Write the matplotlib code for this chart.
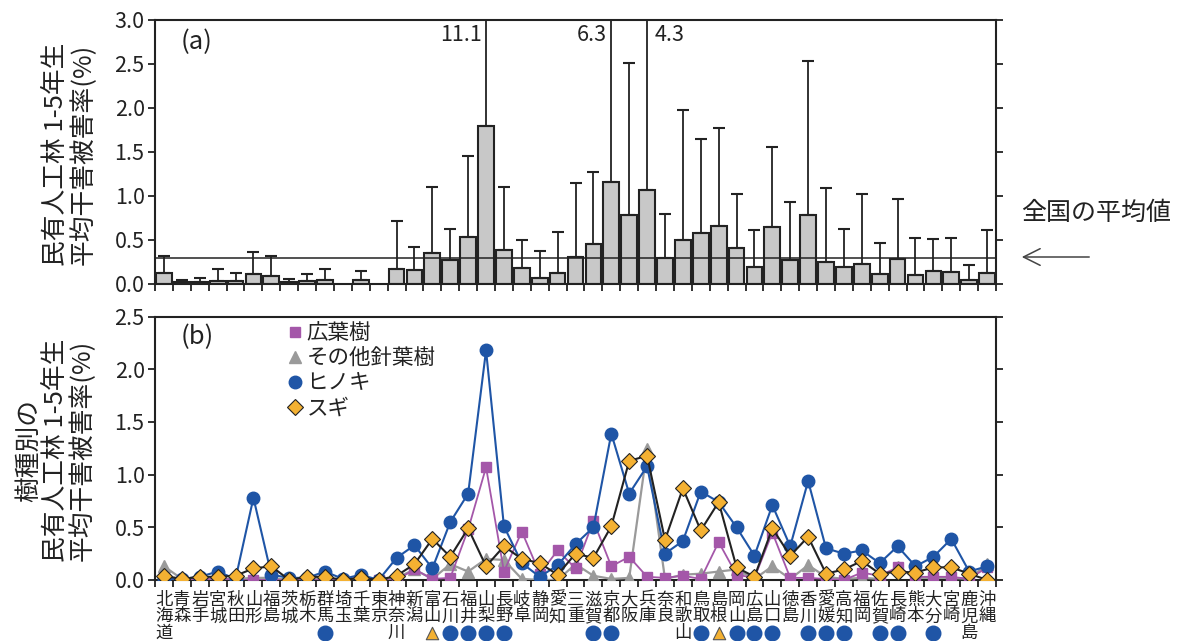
import numpy as np
import matplotlib
matplotlib.use('Agg')
import matplotlib.pyplot as plt
from matplotlib.lines import Line2D
import matplotlib.transforms as mtransforms

plt.rcParams['font.family'] = ['Noto Sans CJK JP', 'DejaVu Sans']
plt.rcParams['text.color'] = '#222222'
plt.rcParams['axes.labelcolor'] = '#222222'
plt.rcParams['xtick.color'] = '#222222'
plt.rcParams['ytick.color'] = '#222222'

prefs = ['北海道', '青森', '岩手', '宮城', '秋田', '山形', '福島', '茨城', '栃木', '群馬',
         '埼玉', '千葉', '東京', '神奈川', '新潟', '富山', '石川', '福井', '山梨', '長野',
         '岐阜', '静岡', '愛知', '三重', '滋賀', '京都', '大阪', '兵庫', '奈良', '和歌山',
         '鳥取', '島根', '岡山', '広島', '山口', '徳島', '香川', '愛媛', '高知', '福岡',
         '佐賀', '長崎', '熊本', '大分', '宮崎', '鹿児島', '沖縄']

# (a) mean damage rate and top of the error bar
mean_rate = [0.13, 0.02, 0.02, 0.03, 0.03, 0.11, 0.09, 0.02, 0.03, 0.05,
             np.nan, 0.04, np.nan, 0.17, 0.16, 0.35, 0.27, 0.53, 1.80, 0.39,
             0.18, 0.07, 0.12, 0.31, 0.45, 1.16, 0.78, 1.07, 0.29, 0.50,
             0.58, 0.66, 0.41, 0.19, 0.65, 0.27, 0.78, 0.25, 0.19, 0.23,
             0.11, 0.28, 0.10, 0.15, 0.14, 0.05, 0.13]
err_top = [0.32, 0.05, 0.07, 0.17, 0.13, 0.36, 0.32, 0.06, 0.11, 0.17,
           np.nan, 0.15, np.nan, 0.71, 0.42, 1.10, 0.63, 1.45, 11.1, 1.10,
           0.50, 0.38, 0.59, 1.15, 1.27, 6.3, 2.51, 4.3, 0.80, 1.98,
           1.65, 1.77, 1.02, 0.61, 1.56, 0.93, 2.53, 1.09, 0.63, 1.02,
           0.47, 0.97, 0.52, 0.51, 0.52, 0.21, 0.61]
national_mean = 0.29

# (b) by tree species
broadleaf = [0.02, 0.00, 0.00, 0.02, 0.00, 0.00, 0.00, 0.00, 0.00, 0.00,
             0.00, 0.03, 0.00, 0.00, 0.10, 0.01, 0.02, 0.48, 1.07, 0.08,
             0.46, 0.06, 0.28, 0.11, 0.56, 0.13, 0.22, 0.03, 0.02, 0.04,
             0.01, 0.36, 0.05, 0.02, 0.45, 0.02, 0.02, 0.01, 0.00, 0.07,
             0.04, 0.12, 0.03, 0.03, 0.03, 0.01, 0.12]
other_conifer = [0.13, 0.01, 0.01, 0.01, 0.01, 0.02, 0.02, 0.00, 0.02, 0.01,
                 0.00, 0.02, 0.00, 0.02, 0.10, 0.01, 0.15, 0.08, 0.20, 0.19,
                 0.01, 0.00, 0.00, 0.15, 0.04, 0.01, 0.02, 1.24, 0.01, 0.05,
                 0.06, 0.08, 0.10, 0.01, 0.13, 0.01, 0.14, 0.03, 0.01, 0.02,
                 0.01, 0.12, 0.02, 0.02, 0.02, 0.01, 0.15]
hinoki = [0.01, 0.01, 0.03, 0.08, 0.01, 0.78, 0.05, 0.02, 0.02, 0.08,
          0.01, 0.05, 0.00, 0.21, 0.33, 0.11, 0.55, 0.82, 2.18, 0.51,
          0.16, 0.03, 0.14, 0.34, 0.50, 1.39, 0.82, 1.08, 0.25, 0.37,
          0.84, 0.74, 0.50, 0.23, 0.71, 0.32, 0.94, 0.30, 0.25, 0.28,
          0.16, 0.32, 0.13, 0.22, 0.39, 0.08, 0.13]
sugi = [0.04, 0.01, 0.03, 0.03, 0.04, 0.11, 0.13, 0.00, 0.03, 0.03,
        0.00, 0.02, 0.00, 0.04, 0.15, 0.39, 0.22, 0.49, 0.13, 0.32,
        0.20, 0.16, 0.05, 0.25, 0.21, 0.51, 1.13, 1.18, 0.38, 0.87,
        0.47, 0.74, 0.12, 0.03, 0.49, 0.23, 0.41, 0.06, 0.10, 0.18,
        0.06, 0.08, 0.07, 0.12, 0.12, 0.06, 0.00]

hinoki_mark = ['群馬', '石川', '福井', '山梨', '長野', '滋賀', '京都', '鳥取', '岡山',
               '広島', '山口', '香川', '愛媛', '高知', '佐賀', '長崎', '大分']
other_mark = ['富山', '島根']

c_blue = '#1f55a6'
c_purple = '#a457a9'
c_grey = '#9a9a9a'
c_orange = '#f4b132'

x = np.arange(len(prefs))
mean_rate = np.array(mean_rate)
err_top = np.array(err_top)

fig = plt.figure(figsize=(11.87, 6.41), dpi=100)
ax1 = fig.add_axes([0.1306, 0.557, 0.7085, 0.4118])
ax2 = fig.add_axes([0.1306, 0.0952, 0.7085, 0.4108])

# ---- (a)
ax1.bar(x, mean_rate, width=0.88, color='#c8c8c8', edgecolor='#222222', linewidth=1.5, zorder=2)
ax1.errorbar(x, mean_rate, yerr=[np.zeros(len(x)), err_top - mean_rate], fmt='none',
             ecolor='#222222', elinewidth=1.3, capsize=4, capthick=1.5, zorder=3)
ax1.axhline(national_mean, color='#222222', lw=1.1, zorder=4)
ax1.set_ylim(0, 3.0)
ax1.set_yticks(np.arange(0, 3.01, 0.5))
ax1.set_yticklabels(['%.1f' % v for v in np.arange(0, 3.01, 0.5)])
for i in (18, 25, 27):
    lab = '%.1f' % err_top[i]
    if i == 27:
        ax1.text(x[i] + 0.4, 2.83, lab, ha='left', va='center', fontsize=15.5)
    else:
        ax1.text(x[i] - 0.25, 2.83, lab, ha='right', va='center', fontsize=15.5)
ax1.text(0.031, 0.915, '(a)', transform=ax1.transAxes, fontsize=18.5, va='center')
fig.text(70 / 1187, 1 - 154 / 641, '民有人工林 1-5年生\n平均干害被害率(%)', fontsize=18.5,
         rotation=90, ha='center', va='center', multialignment='center', linespacing=1.02)

fig.text(1021 / 1187, 1 - 213 / 641, '全国の平均値', fontsize=18, va='center', ha='left')
ax1.annotate('', xy=(1019 / 1187, 1 - 257 / 641), xytext=(1092 / 1187, 1 - 257 / 641),
             xycoords='figure fraction', textcoords='figure fraction',
             arrowprops=dict(arrowstyle='->', color='#444444', lw=1.1,
                             mutation_scale=30))

# ---- (b)
ax2.plot(x, other_conifer, color=c_grey, lw=1.6, marker='^', ms=8, mec=c_grey, mfc=c_grey, zorder=3)
ax2.plot(x, broadleaf, color=c_purple, lw=1.3, marker='s', ms=6.5, mec=c_purple, mfc=c_purple, zorder=4)
ax2.plot(x, hinoki, color=c_blue, lw=1.5, marker='o', ms=9, mec=c_blue, mfc=c_blue, zorder=5)
ax2.plot(x, sugi, color='#222222', lw=1.5, marker='D', ms=8, mec='#222222', mew=0.8,
         mfc=c_orange, zorder=6)
ax2.set_ylim(0, 2.5)
ax2.set_yticks(np.arange(0, 2.51, 0.5))
ax2.set_yticklabels(['%.1f' % v for v in np.arange(0, 2.51, 0.5)])
ax2.text(0.031, 0.923, '(b)', transform=ax2.transAxes, fontsize=18.5, va='center')
fig.text(56 / 1187, 1 - 450 / 641, '樹種別の\n民有人工林 1-5年生\n平均干害被害率(%)', fontsize=18.5,
         rotation=90, ha='center', va='center', multialignment='center', linespacing=1.02)

handles = [Line2D([], [], ls='none', marker='s', ms=6.5, color=c_purple),
           Line2D([], [], ls='none', marker='^', ms=8, color=c_grey),
           Line2D([], [], ls='none', marker='o', ms=9, color=c_blue),
           Line2D([], [], ls='none', marker='D', ms=8, mfc=c_orange, mec='#222222', mew=0.8)]
ax2.legend(handles, ['広葉樹', 'その他針葉樹', 'ヒノキ', 'スギ'], loc='upper left',
           bbox_to_anchor=(0.148, 1.012), frameon=False, fontsize=15.5,
           handlelength=0.6, handletextpad=0.25, labelspacing=0.14, borderaxespad=0)

trans = mtransforms.blended_transform_factory(ax2.transData, ax2.transAxes)
for i, name in enumerate(prefs):
    ax2.text(x[i], -0.04, '\n'.join(name), transform=trans, ha='center', va='top',
             fontsize=12.5, linespacing=0.92)
mx = [prefs.index(p) for p in hinoki_mark]
ax2.scatter(mx, [-0.2] * len(mx), transform=trans, s=110, color=c_blue, clip_on=False, zorder=7)
tx = [prefs.index(p) for p in other_mark]
ax2.scatter(tx, [-0.2] * len(tx), transform=trans, s=80, marker='^', color=c_orange,
            edgecolor='#555555', linewidths=0.8, clip_on=False, zorder=7)

for ax in (ax1, ax2):
    ax.set_xlim(-0.5, len(prefs) - 0.5)
    ax.set_xticks(np.arange(-0.5, len(prefs), 1.0))
    ax.set_xticklabels([])
    ax.tick_params(axis='x', direction='out', length=5, width=1.3)
    ax.tick_params(axis='y', direction='out', length=5, width=1.3, labelsize=15.5, right=True,
                   pad=2.5)
    for s in ax.spines.values():
        s.set_linewidth(1.5)
        s.set_color('#222222')

fig.savefig('out.png', dpi=100)
